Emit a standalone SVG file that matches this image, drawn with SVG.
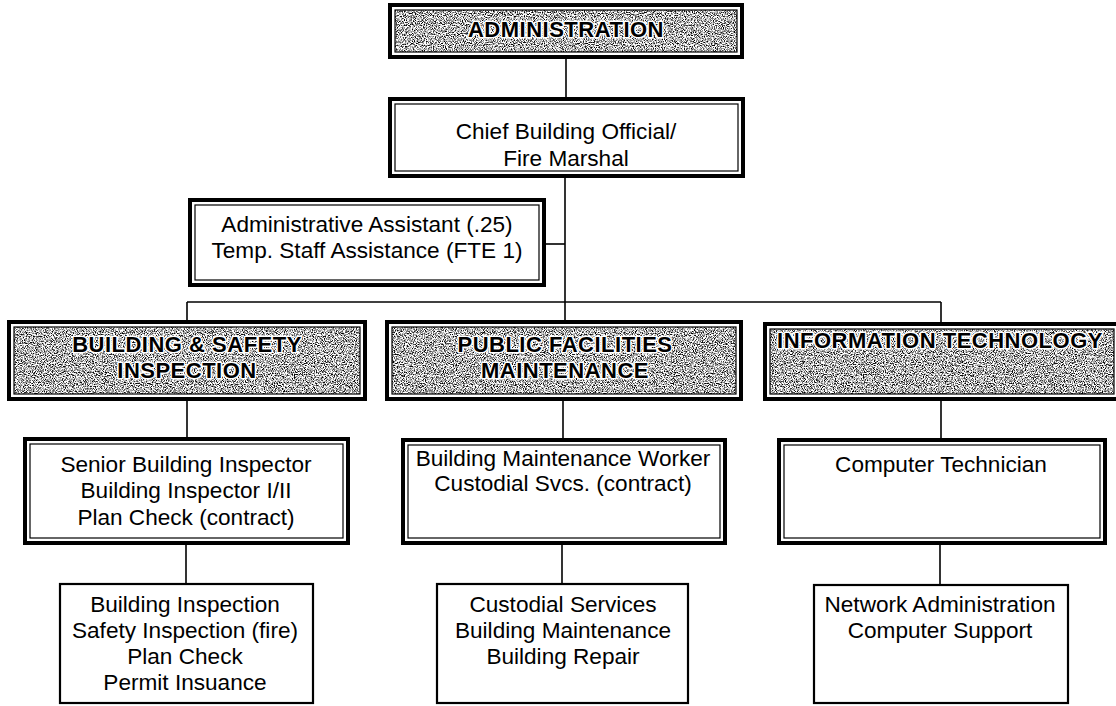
<svg xmlns="http://www.w3.org/2000/svg" width="1116" height="706" viewBox="0 0 1116 706">
  <defs>
    <!-- speckled halftone grey used inside the section headers -->
    <filter id="halftone" x="0" y="0" width="1" height="1" color-interpolation-filters="sRGB">
      <feTurbulence type="fractalNoise" baseFrequency="0.9" numOctaves="2" seed="7" result="noise"/>
      <feColorMatrix in="noise" type="matrix" values="3.2 0 0 0 -0.9  3.2 0 0 0 -0.9  3.2 0 0 0 -0.9  0 0 0 0 1" result="grey"/>
      <feComposite in="grey" in2="SourceGraphic" operator="in"/>
    </filter>
    <style>
      .outer { fill: #fff; stroke: #000; stroke-width: 4; }
      .inner { fill: none; stroke: #000; stroke-width: 1.2; }
      .shade { fill: #000; filter: url(#halftone); }
      .single { fill: #fff; stroke: #000; stroke-width: 2.2; }
      .head { font-family: "Liberation Sans", Arial, sans-serif; font-weight: bold; font-size: 22px; letter-spacing: 0.5px; text-anchor: middle; fill: #000; stroke: #fff; stroke-width: 3; paint-order: stroke; stroke-linejoin: round; }
      .txt { font-family: "Liberation Sans", Arial, sans-serif; font-size: 22.6px; text-anchor: middle; fill: #000; }
      .wire { fill: none; stroke: #000; stroke-width: 1.6; }
    </style>
  </defs>

  <rect width="1116" height="706" fill="#fff"/>

  <!-- connectors -->
  <g id="connectors" class="wire">
    <path d="M566 59 V97"/>
    <path d="M565 178 V320"/>
    <path d="M546 244 H565"/>
    <path d="M187 302 H941"/>
    <path d="M187 302 V320"/>
    <path d="M941 302 V322"/>
    <path d="M187 401 V437"/>
    <path d="M563 401 V438"/>
    <path d="M941 401 V438"/>
    <path d="M186 545 V583"/>
    <path d="M562 545 V583"/>
    <path d="M940 545 V584"/>
  </g>

  <!-- top header -->
  <g id="administration">
    <rect class="outer" x="390" y="5" width="352" height="52"/>
    <rect class="shade" x="395" y="10" width="342" height="42"/>
    <rect class="inner" x="395" y="10" width="342" height="42"/>
    <text class="head" x="566" y="37">ADMINISTRATION</text>
  </g>

  <g id="chief-building-official">
    <rect class="outer" x="390" y="99" width="353" height="77"/>
    <rect class="inner" x="395" y="104" width="343" height="67"/>
    <text class="txt" x="566" y="139">Chief Building Official/</text>
    <text class="txt" x="566" y="166">Fire Marshal</text>
  </g>

  <g id="admin-assistant">
    <rect class="outer" x="190" y="200" width="354" height="85"/>
    <rect class="inner" x="195" y="205" width="344" height="75"/>
    <text class="txt" x="367" y="232">Administrative Assistant (.25)</text>
    <text class="txt" x="367" y="258">Temp. Staff Assistance (FTE 1)</text>
  </g>

  <!-- section headers -->
  <g id="building-safety">
    <rect class="outer" x="9" y="322" width="356" height="77"/>
    <rect class="shade" x="14" y="327" width="346" height="67"/>
    <rect class="inner" x="14" y="327" width="346" height="67"/>
    <text class="head" x="187" y="352">BUILDING &amp; SAFETY</text>
    <text class="head" x="187" y="378">INSPECTION</text>
  </g>

  <g id="public-facilities">
    <rect class="outer" x="387" y="322" width="354" height="77"/>
    <rect class="shade" x="392" y="327" width="344" height="67"/>
    <rect class="inner" x="392" y="327" width="344" height="67"/>
    <text class="head" x="565" y="352">PUBLIC FACILITIES</text>
    <text class="head" x="565" y="378">MAINTENANCE</text>
  </g>

  <g id="information-technology">
    <rect class="outer" x="765" y="324" width="354" height="75"/>
    <rect class="shade" x="770" y="329" width="344" height="65"/>
    <rect class="inner" x="770" y="329" width="344" height="65"/>
    <text class="head" x="940" y="348">INFORMATION TECHNOLOGY</text>
  </g>

  <!-- staff boxes -->
  <g id="inspectors">
    <rect class="outer" x="25" y="439" width="323" height="104"/>
    <rect class="inner" x="30" y="444" width="313" height="94"/>
    <text class="txt" x="186" y="472">Senior Building Inspector</text>
    <text class="txt" x="186" y="498">Building Inspector I/II</text>
    <text class="txt" x="186" y="525">Plan Check (contract)</text>
  </g>

  <g id="maintenance-staff">
    <rect class="outer" x="403" y="440" width="322" height="103"/>
    <rect class="inner" x="408" y="445" width="312" height="93"/>
    <text class="txt" x="563" y="466">Building Maintenance Worker</text>
    <text class="txt" x="563" y="491">Custodial Svcs. (contract)</text>
  </g>

  <g id="computer-technician">
    <rect class="outer" x="779" y="440" width="326" height="103"/>
    <rect class="inner" x="784" y="445" width="316" height="93"/>
    <text class="txt" x="941" y="472">Computer Technician</text>
  </g>

  <!-- duty boxes -->
  <g id="inspection-duties">
    <rect class="single" x="60" y="584" width="253" height="119"/>
    <text class="txt" x="185" y="612">Building Inspection</text>
    <text class="txt" x="185" y="638">Safety Inspection (fire)</text>
    <text class="txt" x="185" y="664">Plan Check</text>
    <text class="txt" x="185" y="690">Permit Insuance</text>
  </g>

  <g id="maintenance-duties">
    <rect class="single" x="437" y="584" width="251" height="119"/>
    <text class="txt" x="563" y="612">Custodial Services</text>
    <text class="txt" x="563" y="638">Building Maintenance</text>
    <text class="txt" x="563" y="664">Building Repair</text>
  </g>

  <g id="it-duties">
    <rect class="single" x="814" y="585" width="254" height="118"/>
    <text class="txt" x="940" y="612">Network Administration</text>
    <text class="txt" x="940" y="638">Computer Support</text>
  </g>
</svg>
